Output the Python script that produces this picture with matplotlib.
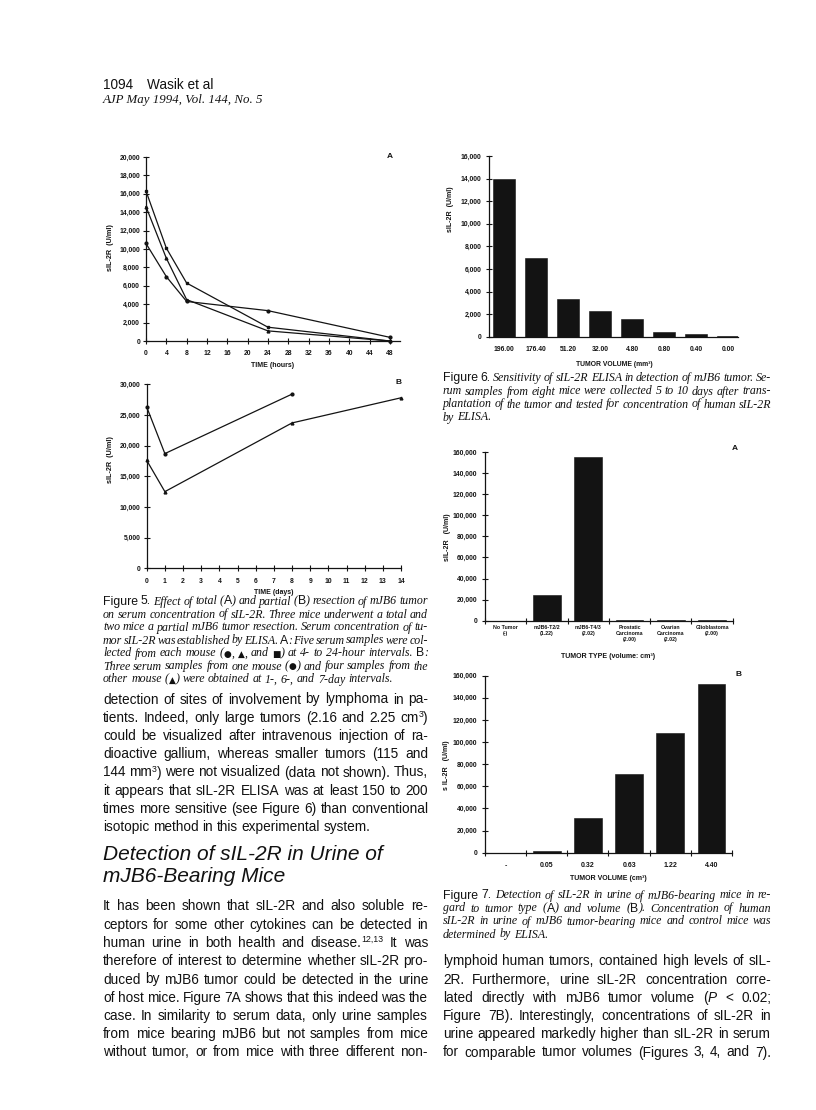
import matplotlib
matplotlib.use('Agg')
import matplotlib.pyplot as plt
from matplotlib.ticker import FuncFormatter, FixedLocator

W, H = 816, 1110
plt.rcParams['font.family'] = ['Liberation Sans', 'DejaVu Sans']
plt.rcParams['font.weight'] = 'bold'
INK = '#131313'

# ---------------- data ----------------
hours = [0, 4, 8, 24, 48]
serum_sq = [16300, 10100, 6300, 1500, 0]
serum_tri = [14600, 9000, 4500, 1100, 0]
serum_ci = [10600, 7000, 4300, 3300, 400]
hour_ticks = [0, 4, 8, 12, 16, 20, 24, 28, 32, 36, 40, 44, 48]

days_ci = [0, 1, 8]
partial_ci = [26300, 18700, 28400]
days_tri = [0, 1, 8, 14]
partial_tri = [17600, 12500, 23700, 27800]
day_ticks = [0, 1, 2, 3, 4, 5, 6, 7, 8, 9, 10, 11, 12, 13, 14]

vol6_labels = ["196.00", "176.40", "51.20", "32.00", "4.80", "0.80", "0.40", "0.00"]
vol6_values = [14000, 7000, 3350, 2300, 1600, 450, 280, 80]

type7_labels = ["No Tumor\n(-)", "mJB6-T2/2\n(1.22)", "mJB6-T4/3\n(2.02)",
                "Prostatic\nCarcinoma\n(2.00)", "Ovarian\nCarcinoma\n(2.02)",
                "Glioblastoma\n(2.00)"]
type7_values = [0, 24000, 155000, 700, 700, 700]

vol7_labels = ["-", "0.05", "0.32", "0.63", "1.22", "4.40"]
vol7_values = [0, 1500, 31700, 71500, 108000, 152000]

# ---------------- figure ----------------
fig = plt.figure(figsize=(W / 100, H / 100), dpi=100)
fig.patch.set_facecolor('white')


def add_axes(l, r, top, bottom):
    return fig.add_axes([l / W, 1 - bottom / H, (r - l) / W, (bottom - top) / H])


comma = FuncFormatter(lambda v, p: f"{v:,.0f}")


def style(ax, xpad, ypad=2.3, fs=4.9, xfs=4.9):
    for s in ['top', 'right']:
        ax.spines[s].set_visible(False)
    for s in ['left', 'bottom']:
        ax.spines[s].set_linewidth(0.9)
        ax.spines[s].set_color(INK)
    ax.patch.set_alpha(0)
    ax.tick_params(axis='both', which='both', direction='inout', length=4, width=0.8,
                   colors=INK)
    ax.tick_params(axis='y', labelsize=fs, pad=ypad)
    ax.tick_params(axis='x', labelsize=xfs, pad=xpad)
    ax.yaxis.set_major_formatter(comma)


def place_label(ax, which, text, x, y, fs=5.0):
    if which == 'x':
        ax.set_xlabel(text, fontsize=fs, fontweight='bold', color=INK)
        lab = ax.xaxis
    else:
        ax.set_ylabel(text, fontsize=fs, fontweight='bold', color=INK)
        lab = ax.yaxis
    lab.label.set_va('center')
    lab.label.set_ha('center')
    cx, cy = ax.transAxes.inverted().transform((x, H - y))
    lab.set_label_coords(cx, cy)


def panel_letter(x, y, s):
    fig.text(x / W, 1 - y / H, s, fontsize=6, fontweight='bold', color=INK,
             ha='center', va='center')


# ---- Figure 5A ----
ax = add_axes(146, 400, 157, 341)
ax.plot(hours, serum_sq, '-', marker='s', ms=2.0, color=INK, lw=0.9, clip_on=False)
ax.plot(hours, serum_tri, '-', marker='^', ms=2.0, color=INK, lw=0.9, clip_on=False)
ax.plot(hours, serum_ci, '-', marker='o', ms=2.0, color=INK, lw=0.9, clip_on=False)
ax.set_xlim(0, 50)
ax.set_ylim(0, 20000)
ax.xaxis.set_major_locator(FixedLocator(hour_ticks))
ax.yaxis.set_major_locator(FixedLocator(list(range(0, 20001, 2000))))
style(ax, xpad=4.5)
place_label(ax, 'x', "TIME (hours)", 273, 366)
place_label(ax, 'y', "sIL-2R  (U/ml)", 110, 248, fs=5.2)
panel_letter(390, 156, "A")

# ---- Figure 5B ----
ax = add_axes(146.7, 401, 384.3, 568.3)
ax.plot(days_ci, partial_ci, '-', marker='o', ms=2.0, color=INK, lw=0.9, clip_on=False)
ax.plot(days_tri, partial_tri, '-', marker='^', ms=2.0, color=INK, lw=0.9, clip_on=False)
ax.set_xlim(0, 14)
ax.set_ylim(0, 30000)
ax.xaxis.set_major_locator(FixedLocator(day_ticks))
ax.yaxis.set_major_locator(FixedLocator(list(range(0, 30001, 5000))))
style(ax, xpad=5)
place_label(ax, 'x', "TIME (days)", 274, 592)
place_label(ax, 'y', "sIL-2R  (U/ml)", 110, 460, fs=5.2)
panel_letter(399, 382, "B")

# ---- Figure 6 ----
ax = add_axes(489, 738, 156, 336.7)
x6 = list(range(len(vol6_values)))
ax.bar(x6, vol6_values, width=0.68, color=INK, edgecolor=INK, linewidth=0.4)
ax.set_xlim(-0.475, 7.31)
ax.set_ylim(0, 16000)
ax.set_xticks(x6, vol6_labels)
ax.yaxis.set_major_locator(FixedLocator(list(range(0, 16001, 2000))))
style(ax, xpad=6.5, ypad=3.5)
ax.tick_params(axis='x', length=0)
place_label(ax, 'x', "TUMOR VOLUME (mm\u00b3)", 614, 364, fs=4.9)
place_label(ax, 'y', "sIL-2R  (U/ml)", 450, 209, fs=5.0)

# ---- Figure 7A ----
ax = add_axes(485, 732.7, 452, 620.7)
x7 = [i + 0.5 for i in range(len(type7_values))]
ax.bar(x7, type7_values, width=0.67, color=INK, edgecolor=INK, linewidth=0.4)
ax.set_xlim(0, 6)
ax.set_ylim(0, 160000)
ax.set_xticks(x7, type7_labels)
ax.xaxis.set_minor_locator(FixedLocator(list(range(0, 7))))
ax.yaxis.set_major_locator(FixedLocator(list(range(0, 160001, 20000))))
style(ax, xpad=3.0, ypad=3.5, xfs=3.8)
ax.tick_params(axis='x', which='major', length=0)
for lab in ax.get_xticklabels():
    lab.set_linespacing(1.25)
place_label(ax, 'x', "TUMOR TYPE (volume: cm\u00b3)", 608, 656, fs=5.0)
place_label(ax, 'y', "sIL-2R   (U/ml)", 447, 537, fs=5.0)
panel_letter(735, 448, "A")

# ---- Figure 7B ----
ax = add_axes(485, 732, 675.6, 852.7)
ax.bar(x7, vol7_values, width=0.67, color=INK, edgecolor=INK, linewidth=0.4)
ax.set_xlim(0, 6)
ax.set_ylim(0, 160000)
ax.set_xticks(x7, vol7_labels)
ax.xaxis.set_minor_locator(FixedLocator(list(range(0, 7))))
ax.yaxis.set_major_locator(FixedLocator(list(range(0, 160001, 20000))))
style(ax, xpad=7.0, ypad=3.5, xfs=5.0)
ax.tick_params(axis='x', which='major', length=0)
place_label(ax, 'x', "TUMOR VOLUME (cm\u00b3)", 608, 878, fs=5.0)
place_label(ax, 'y', "s IL-2R   (U/ml)", 447, 765, fs=5.0)
panel_letter(738, 674, "B")

# ---------------- page text ----------------
STY = {
    'b': dict(family='Liberation Sans', size=9.8, weight='normal'),
    'bi': dict(family='Liberation Sans', size=9.8, weight='normal', style='italic'),
    'sup': dict(family='Liberation Sans', size=6.3, weight='normal'),
    'it': dict(family='Liberation Serif', size=8.6, weight='normal', style='italic'),
    'cs': dict(family='Liberation Sans', size=8.8, weight='normal'),
    'sym': dict(family='DejaVu Sans', size=6.4, weight='normal'),
    'hd': dict(family='Liberation Sans', size=15.0, weight='normal', style='italic'),
}
DY = {'sup': -4.7}

renderer = fig.canvas.get_renderer()
_cache = {}


def tw(s, st):
    key = (s, st)
    if key not in _cache:
        t = fig.text(0, 0, s, **STY[st])
        _cache[key] = t.get_window_extent(renderer=renderer).width
        t.remove()
    return _cache[key]


def tokenize(runs):
    words = [[]]
    for text, st in runs:
        parts = text.split(' ')
        for i, p in enumerate(parts):
            if i > 0:
                words.append([])
            if p:
                words[-1].append((p, st))
    return [w for w in words if w]


def text_line(x0, x1, yb, runs, st='b', justify=True):
    if isinstance(runs, str):
        runs = [(runs, st)]
    words = tokenize(runs)
    widths = [[tw(p, s) for p, s in w] for w in words]
    total = sum(sum(w) for w in widths)
    space = tw("a a", st) - tw("aa", st)
    if justify and len(words) > 1:
        gap = (x1 - x0 - total) / (len(words) - 1)
    else:
        gap = space
    x = x0
    for w, ws in zip(words, widths):
        for (p, s), pw in zip(w, ws):
            fig.text(x / W, 1 - (yb + DY.get(s, 0)) / H, p, ha='left', va='baseline',
                     color='#111111', **STY[s])
            x += pw
        x += gap


def paragraph(x0, x1, ys, lines, st, off, last_justify=False):
    for i, (y, ln) in enumerate(zip(ys, lines)):
        just = (i < len(lines) - 1) or last_justify
        text_line(x0, x1, y + off, ln, st=st, justify=just)


# header
fig.text(103 / W, 1 - 89 / H, "1094", family='Liberation Sans', size=9.8, weight='normal',
         va='baseline', color='#111111')
fig.text(147 / W, 1 - 89 / H, "Wasik et al", family='Liberation Sans', size=9.8,
         weight='normal', va='baseline', color='#111111')
fig.text(103 / W, 1 - 103 / H, "AJP May 1994, Vol. 144, No. 5", family='Liberation Serif',
         style='italic', size=9.3, weight='normal', va='baseline', color='#111111')

# Figure 5 caption
cap5 = [
    [("Figure 5.", 'cs'), (" Effect of total (", 'it'), ("A", 'cs'), (") and partial (", 'it'),
     ("B", 'cs'), (") resection of mJB6 tumor", 'it')],
    "on serum concentration of sIL-2R. Three mice underwent a total and",
    "two mice a partial mJB6 tumor resection. Serum concentration of tu-",
    [("mor sIL-2R was established by ELISA. ", 'it'), ("A", 'cs'),
     (": Five serum samples were col-", 'it')],
    [("lected from each mouse (", 'it'), ("\u25cf", 'sym'), (", ", 'it'), ("\u25b2", 'sym'),
     (", and ", 'it'), ("\u25a0", 'sym'), (") at 4- to 24-hour intervals. ", 'it'),
     ("B", 'cs'), (":", 'it')],
    [("Three serum samples from one mouse (", 'it'), ("\u25cf", 'sym'),
     (") and four samples from the", 'it')],
    [("other mouse (", 'it'), ("\u25b2", 'sym'),
     (") were obtained at 1-, 6-, and 7-day intervals.", 'it')],
]
paragraph(103, 428, [601 + 13 * k for k in range(7)], cap5, 'it', 3.5)

# Figure 6 caption
cap6 = [
    [("Figure 6.", 'cs'), (" Sensitivity of sIL-2R ELISA in detection of mJB6 tumor. Se-", 'it')],
    "rum samples from eight mice were collected 5 to 10 days after trans-",
    "plantation of the tumor and tested for concentration of human sIL-2R",
    "by ELISA.",
]
paragraph(443, 771, [378 + 13 * k for k in range(4)], cap6, 'it', 3.5)

# Figure 7 caption
cap7 = [
    [("Figure 7.", 'cs'), (" Detection of sIL-2R in urine of mJB6-bearing mice in re-", 'it')],
    [("gard to tumor type (", 'it'), ("A", 'cs'), (") and volume (", 'it'), ("B", 'cs'),
     ("). Concentration of human", 'it')],
    "sIL-2R in urine of mJB6 tumor-bearing mice and control mice was",
    "determined by ELISA.",
]
paragraph(443, 771, [895 + 13 * k for k in range(4)], cap7, 'it', 3.5)

# Left column body, paragraph 1
body1 = [
    "detection of sites of involvement by lymphoma in pa-",
    [("tients. Indeed, only large tumors (2.16 and 2.25 cm", 'b'), ("3", 'sup'), (")", 'b')],
    "could be visualized after intravenous injection of ra-",
    "dioactive gallium, whereas smaller tumors (115 and",
    [("144 mm", 'b'), ("3", 'sup'), (") were not visualized (data not shown). Thus,", 'b')],
    "it appears that sIL-2R ELISA was at least 150 to 200",
    "times more sensitive (see Figure 6) than conventional",
    "isotopic method in this experimental system.",
]
paragraph(103, 428, [699 + 18.25 * k for k in range(8)], body1, 'b', 4.5)

# Section heading
fig.text(103 / W, 1 - 860 / H, "Detection of sIL-2R in Urine of", ha='left', va='baseline',
         color='#111111', **STY['hd'])
fig.text(103 / W, 1 - 882 / H, "mJB6-Bearing Mice", ha='left', va='baseline',
         color='#111111', **STY['hd'])

# Left column body, paragraph 2
body2 = [
    "It has been shown that sIL-2R and also soluble re-",
    "ceptors for some other cytokines can be detected in",
    [("human urine in both health and disease.", 'b'), ("12,13", 'sup'), (" It was", 'b')],
    "therefore of interest to determine whether sIL-2R pro-",
    "duced by mJB6 tumor could be detected in the urine",
    "of host mice. Figure 7A shows that this indeed was the",
    "case. In similarity to serum data, only urine samples",
    "from mice bearing mJB6 but not samples from mice",
    "without tumor, or from mice with three different non-",
]
paragraph(103, 428, [906 + 18.25 * k for k in range(9)], body2, 'b', 4.5, last_justify=True)

# Right column body
body3 = [
    "lymphoid human tumors, contained high levels of sIL-",
    "2R. Furthermore, urine sIL-2R concentration corre-",
    [("lated directly with mJB6 tumor volume (", 'b'), ("P", 'bi'), (" < 0.02;", 'b')],
    "Figure 7B). Interestingly, concentrations of sIL-2R in",
    "urine appeared markedly higher than sIL-2R in serum",
    "for comparable tumor volumes (Figures 3, 4, and 7).",
]
paragraph(443, 771, [960.75 + 18.25 * k for k in range(6)], body3, 'b', 4.5,
          last_justify=True)

fig.savefig('out.png', dpi=100, facecolor='white')
